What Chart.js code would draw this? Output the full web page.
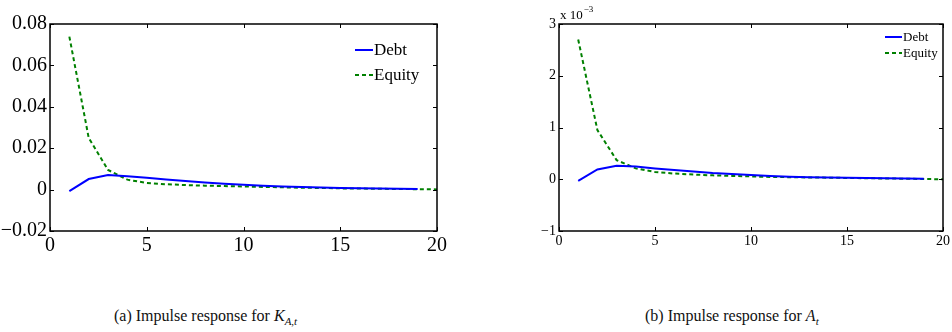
<!DOCTYPE html>
<html>
<head>
<meta charset="utf-8">
<script src="https://cdn.jsdelivr.net/npm/chart.js@4.4.1/dist/chart.umd.min.js"></script>
<style>
  body { margin: 0; background: #fff; width: 952px; height: 332px; position: relative; overflow: hidden; }
  .box { position: absolute; top: 0; width: 476px; height: 280px; }
  #boxA { left: 0; }
  #boxB { left: 476px; }
  .cap { position: absolute; top: 308px; font-family: "Liberation Serif", "Times New Roman", serif; font-size: 16px; line-height: 1;
         white-space: nowrap; color: #111; }
  .cap i { font-style: italic; }
  .cap sub { font-size: 11px; vertical-align: -4px; line-height: 0; }
</style>
</head>
<body>
<div class="box" id="boxA"><canvas id="grafA" width="476" height="280"></canvas></div>
<div class="box" id="boxB"><canvas id="grafB" width="476" height="280"></canvas></div>
<div class="cap" style="left:114px">(a) Impulse response for <i>K</i><sub><i>A</i>,<i>t</i></sub></div>
<div class="cap" style="left:645px">(b) Impulse response for <i>A</i><sub><i>t</i></sub></div>

<script>
// periods after the shock
const steps = [1, 2, 3, 4, 5, 6, 7, 8, 9, 10, 11, 12, 13, 14, 15, 16, 17, 18, 19, 20]

// response of K_A,t
const debtK = [-0.0007, 0.0051, 0.0070, 0.0065, 0.0057, 0.0049, 0.0041, 0.0034, 0.0028, 0.0023,
  0.0019, 0.0015, 0.0012, 0.0010, 0.0008, 0.0006, 0.0005, 0.0004, 0.0003]
const equityK = [0.0739, 0.0250, 0.0095, 0.0048, 0.0032, 0.0026, 0.0022, 0.0019, 0.0017, 0.0015,
  0.0013, 0.0011, 0.0009, 0.0008, 0.0006, 0.0005, 0.0004, 0.0003, 0.0002, 0.0001]

// response of A_t (in units of 10^-3)
const debtA = [-0.03, 0.19, 0.26, 0.245, 0.21, 0.18, 0.15, 0.12, 0.10, 0.08,
  0.065, 0.05, 0.04, 0.035, 0.03, 0.025, 0.02, 0.015, 0.01]
const equityA = [2.70, 0.95, 0.37, 0.21, 0.14, 0.11, 0.09, 0.075, 0.065, 0.055,
  0.045, 0.04, 0.035, 0.03, 0.025, 0.02, 0.015, 0.01, 0.005, 0.0]

const xTicks = [0, 5, 10, 15, 20]
const yTicksK = [-0.02, 0, 0.02, 0.04, 0.06, 0.08]
const yLabelsK = ['\u22120.02', '0', '0.02', '0.04', '0.06', '0.08']
const yTicksA = [-1, 0, 1, 2, 3]
const yLabelsA = ['\u22121', '0', '1', '2', '3']

const serif = '"Liberation Serif", "Times New Roman", serif'
Chart.defaults.font.family = serif
Chart.defaults.color = '#000'

const pts = arr => arr.map((v, i) => ({ x: steps[i], y: v }))

// box around the plot, inward ticks, legend inside
const frame = {
  id: 'frame',
  afterDraw(chart, args, o) {
    const ctx = chart.ctx
    const a = chart.chartArea
    const x = chart.scales.x
    const y = chart.scales.y
    ctx.save()
    ctx.strokeStyle = '#000'
    ctx.lineWidth = 1.5
    ctx.strokeRect(a.left, a.top, a.right - a.left, a.bottom - a.top)
    ctx.lineWidth = 1
    ctx.beginPath()
    x.ticks.forEach(t => {
      const px = Math.round(x.getPixelForValue(t.value)) + 0.5
      ctx.moveTo(px, a.bottom); ctx.lineTo(px, a.bottom - 4)
      ctx.moveTo(px, a.top); ctx.lineTo(px, a.top + 4)
    })
    y.ticks.forEach(t => {
      const py = Math.round(y.getPixelForValue(t.value)) + 0.5
      ctx.moveTo(a.left, py); ctx.lineTo(a.left + 4, py)
      ctx.moveTo(a.right, py); ctx.lineTo(a.right - 4, py)
    })
    ctx.stroke()

    // legend
    ctx.font = o.font
    ctx.fillStyle = '#000'
    ctx.textBaseline = 'middle'
    chart.data.datasets.forEach((ds, i) => {
      const ly = o.y + i * o.row
      ctx.strokeStyle = ds.borderColor
      ctx.lineWidth = ds.borderWidth
      ctx.setLineDash(ds.borderDash || [])
      ctx.beginPath()
      ctx.moveTo(o.x, ly); ctx.lineTo(o.x + o.len, ly)
      ctx.stroke()
      ctx.setLineDash([])
      ctx.fillText(ds.label, o.x + o.len + 1, ly + 1)
    })

    if (o.expo) {
      ctx.font = o.expoFont
      ctx.textBaseline = 'alphabetic'
      ctx.fillText('x 10', a.left + 1, a.top - 5)
      const w = ctx.measureText('x 10').width
      ctx.font = o.supFont
      ctx.fillText('\u22123', a.left + 2 + w, a.top - 12)
    }
    ctx.restore()
  }
}

function makeChart(id, debt, equity, yt, yl, cfg) {
  const tickFont = { family: serif, size: cfg.tickSize }
  return new Chart(document.getElementById(id), {
    type: 'line',
    data: {
      datasets: [
        { label: 'Debt', data: pts(debt), borderColor: '#0000ff', borderWidth: 2, pointRadius: 0, tension: 0 },
        { label: 'Equity', data: pts(equity), borderColor: '#008000', borderWidth: 2, borderDash: [4, 3], pointRadius: 0, tension: 0 }
      ]
    },
    options: {
      responsive: false,
      animation: false,
      devicePixelRatio: 1,
      layout: { padding: { left: 0, top: 24, right: cfg.padRight, bottom: 0 } },
      plugins: {
        legend: { display: false },
        tooltip: { enabled: false },
        frame: cfg.legend
      },
      scales: {
        x: {
          type: 'linear', min: 0, max: 20,
          afterBuildTicks: s => { s.ticks = xTicks.map(v => ({ value: v })) },
          grid: { display: false, drawTicks: false },
          border: { display: false },
          ticks: { font: tickFont, color: '#000', padding: cfg.xPad, maxRotation: 0, callback: v => String(v) },
          afterFit: s => { s.height = 49 }
        },
        y: {
          type: 'linear', min: yt[0], max: yt[yt.length - 1],
          afterBuildTicks: s => { s.ticks = yt.map(v => ({ value: v })) },
          grid: { display: false, drawTicks: false },
          border: { display: false },
          ticks: { font: tickFont, color: '#000', padding: 3, callback: (v, i) => yl[i] },
          afterFit: s => { s.width = cfg.yWidth }
        }
      }
    },
    plugins: [frame]
  })
}

makeChart('grafA', debtK, equityK, yTicksK, yLabelsK, {
  tickSize: 20, padRight: 39, yWidth: 50, xPad: 3,
  legend: { x: 355, y: 50, row: 25, len: 18, font: '17px ' + serif }
})

makeChart('grafB', debtA, equityA, yTicksA, yLabelsA, {
  tickSize: 14, padRight: 5, yWidth: 83, xPad: 2,
  legend: { x: 409, y: 37, row: 16, len: 17, font: '13px ' + serif,
    expo: true, expoFont: '13px ' + serif, supFont: '9px ' + serif }
})
</script>
</body>
</html>
